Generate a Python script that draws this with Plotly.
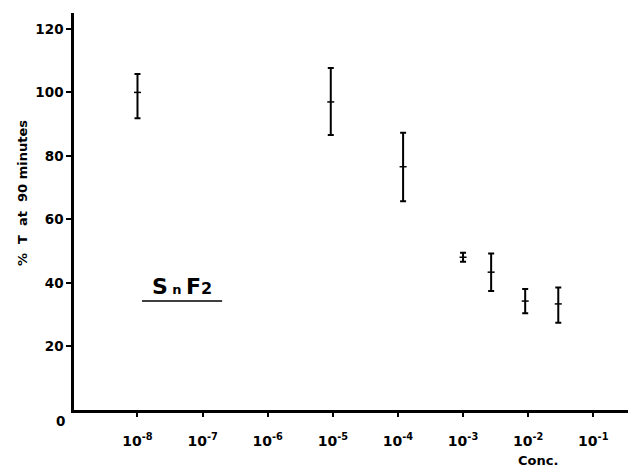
import plotly.graph_objects as go

conc = [1e-8, 9.3e-6, 1.2e-4, 1e-3, 2.7e-3, 9e-3, 2.9e-2]
pct_t = [100, 97, 76.6, 48.1, 43.4, 34.3, 33.4]
err_plus = [5.8, 10.7, 10.7, 1.4, 5.9, 3.8, 5.2]
err_minus = [8.1, 10.4, 10.9, 1.4, 5.9, 3.8, 5.9]

xtick_vals = [1e-8, 1e-7, 1e-6, 1e-5, 1e-4, 1e-3, 1e-2, 1e-1]
xtick_text = ["10<sup>-8</sup>", "10<sup>-7</sup>", "10<sup>-6</sup>", "10<sup>-5</sup>",
              "10<sup>-4</sup>", "10<sup>-3</sup>", "10<sup>-2</sup>", "10<sup>-1</sup>"]
ytick_vals = [20, 40, 60, 80, 100, 120]

FONT = "DejaVu Sans, Liberation Sans, Arial, sans-serif"

fig = go.Figure()
fig.add_trace(go.Scatter(
    x=conc, y=pct_t, mode="markers",
    marker=dict(symbol="line-ew", size=5, color="black", line=dict(color="black", width=1.5)),
    error_y=dict(type="data", array=err_plus, arrayminus=err_minus, symmetric=False,
                 color="black", thickness=2, width=3),
    showlegend=False,
))

fig.update_layout(
    width=628, height=461,
    margin=dict(l=66, r=3, t=5, b=59),
    paper_bgcolor="white", plot_bgcolor="white",
    font=dict(family=FONT, color="black", size=13),
    xaxis=dict(type="log", range=[-8.975, -0.39], tickvals=xtick_vals, ticktext=xtick_text,
               showgrid=False, zeroline=False, showline=True, linecolor="black", linewidth=2.5,
               ticks="outside", ticklen=4, tickwidth=1.5, tickcolor="black",
               ticklabelstandoff=12,
               tickfont=dict(family=FONT, size=14, color="black", weight="bold")),
    yaxis=dict(range=[0, 125], tickvals=ytick_vals, showgrid=False, zeroline=False,
               showline=True, linecolor="black", linewidth=2.5,
               ticks="outside", ticklen=5, tickwidth=1.5, tickcolor="black",
               tickfont=dict(family=FONT, size=13.5, color="black", weight="bold")),
)

fig.add_annotation(xref="paper", yref="paper", x=-0.012, y=-0.028, text="<b>0</b>",
                   showarrow=False, xanchor="right", yanchor="middle",
                   font=dict(family=FONT, size=13.5, color="black"))
fig.add_annotation(xref="paper", yref="paper", x=-0.091, y=0.547,
                   text="<b>%  T  at  90 minutes</b>", textangle=-90,
                   showarrow=False, xanchor="center", yanchor="middle",
                   font=dict(family=FONT, size=13, color="black"))
fig.add_annotation(xref="paper", yref="paper", x=0.83, y=-0.126, text="<b>Conc.</b>",
                   showarrow=False, xanchor="center", yanchor="middle",
                   font=dict(family=FONT, size=13, color="black"))
fig.add_annotation(xref="paper", yref="paper", x=0.193, y=0.312,
                   text="<b>S\u2009<span style='font-size:13px'>n</span>\u2009F<span style='font-size:16px'>2</span></b>",
                   showarrow=False, xanchor="center", yanchor="middle",
                   font=dict(family=FONT, size=22, color="black"))
fig.add_shape(type="line", xref="paper", yref="paper", x0=0.1216, x1=0.265, y0=0.2746, y1=0.2746,
              line=dict(color="black", width=1.5))

fig.write_html("out.html")
